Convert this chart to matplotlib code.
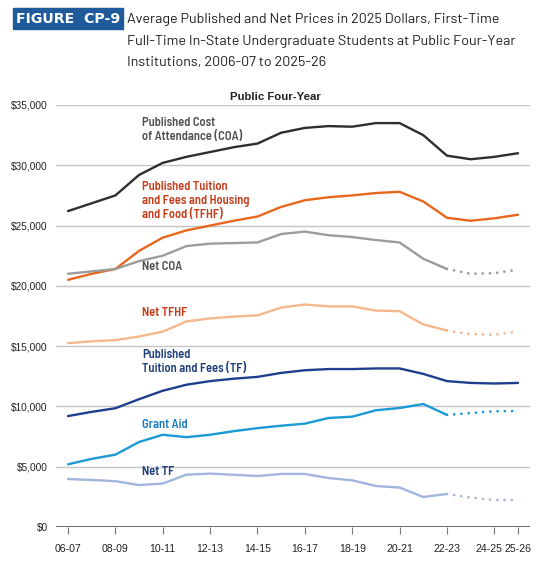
import matplotlib
matplotlib.use("Agg")
import matplotlib.pyplot as plt
from matplotlib.patches import Rectangle
import matplotlib.transforms as mtransforms
import numpy as np

years = ["06-07", "07-08", "08-09", "09-10", "10-11", "11-12", "12-13", "13-14", "14-15", "15-16",
         "16-17", "17-18", "18-19", "19-20", "20-21", "21-22", "22-23", "23-24", "24-25", "25-26"]
tick_labels = ["06-07", "08-09", "10-11", "12-13", "14-15", "16-17", "18-19", "20-21", "22-23", "24-25", "25-26"]

coa = [26200, 26850, 27500, 29200, 30200, 30700, 31100, 31500, 31800, 32700,
       33100, 33250, 33200, 33500, 33500, 32500, 30800, 30500, 30700, 31000]
tfhf = [20500, 21000, 21400, 22900, 24000, 24600, 25000, 25400, 25750, 26550,
        27100, 27350, 27500, 27700, 27800, 27000, 25650, 25400, 25600, 25900]
net_coa = [21000, 21200, 21400, 22050, 22500, 23300, 23500, 23550, 23600, 24300,
           24500, 24200, 24050, 23800, 23600, 22250, 21400, 21000, 21050, 21350]
net_tfhf = [15250, 15400, 15500, 15800, 16200, 17050, 17300, 17450, 17550, 18200,
            18450, 18300, 18300, 17950, 17900, 16800, 16300, 16000, 15950, 16200]
tf = [9200, 9550, 9850, 10600, 11300, 11800, 12100, 12300, 12450, 12780,
      13000, 13100, 13100, 13150, 13150, 12700, 12100, 11950, 11900, 11950]
grant = [5200, 5650, 6000, 7050, 7650, 7450, 7650, 7950, 8200, 8400,
         8570, 9040, 9150, 9680, 9870, 10200, 9300, 9450, 9600, 9620]
net_tf = [3980, 3900, 3800, 3480, 3600, 4340, 4430, 4330, 4230, 4400,
          4400, 4060, 3870, 3400, 3270, 2490, 2740, 2440, 2240, 2240]

series = [
    (coa, "#2e2e2e", False, "Published Cost\nof Attendance (COA)", "#505050", 124),
    (tfhf, "#e8671c", False, "Published Tuition\nand Fees and Housing\nand Food (TFHF)", "#c53d1b", 188),
    (net_coa, "#9c9c9c", True, "Net COA", "#505050", 268),
    (net_tfhf, "#f5b78c", True, "Net TFHF", "#c53d1b", 314),
    (tf, "#1f3f8c", False, "Published\nTuition and Fees (TF)", "#1f3d7a", 356),
    (grant, "#1b9ad6", True, "Grant Aid", "#1b7cc0", 426),
    (net_tf, "#a2b5de", True, "Net TF", "#1f3d7a", 473),
]

W, H = 550, 561
fig = plt.figure(figsize=(W / 100, H / 100), dpi=100)
ax = fig.add_axes([56 / W, 1 - 527 / H, (530 - 56) / W, (527 - 105) / H])

label_font = ["Barlow Semi Condensed", "Liberation Sans Narrow", "Roboto", "DejaVu Sans"]
title_font = ["Barlow", "Roboto", "DejaVu Sans"]
tick_font = ["Liberation Sans", "Roboto", "DejaVu Sans"]

x = np.arange(len(years))
split = years.index("22-23")
for vals, col, proj, label, lcol, ly in series:
    v = np.array(vals, dtype=float)
    if proj:
        ax.plot(x[:split + 1], v[:split + 1], color=col, lw=1.7, solid_capstyle="round", zorder=3)
        ax.plot(x[split:], v[split:], color=col, lw=2.0, linestyle=(0, (0.01, 2.6)),
                dash_capstyle="round", zorder=3)
    else:
        ax.plot(x, v, color=col, lw=1.7, solid_capstyle="round", zorder=3)
    fig.text(142 / W, 1 - (ly - 7) / H, label, color=lcol, fontsize=9.0, fontweight="semibold",
             family=label_font, va="top", ha="left", linespacing=1.22)

ax.set_xlim(-0.507, 19.507)
ax.set_ylim(0, 35000)
yt = np.arange(0, 35001, 5000)
ax.set_yticks(yt)
ax.set_yticklabels(["$" + format(int(v), ",") for v in yt], fontsize=7.3, color="#222222", family=tick_font)
ax.tick_params(axis="y", length=0, pad=6)
for v in yt[1:]:
    ax.axhline(v, color="#c4c4c4", lw=1.0, zorder=1)
ax.axhline(0, color="#555555", lw=1.2, zorder=2)

ax.set_xticks([years.index(t) for t in tick_labels])
ax.set_xticklabels(tick_labels, fontsize=7.6, color="#222222", family=tick_font)
ax.tick_params(axis="x", length=5, width=0.8, color="#777777", pad=7.5)
shift = mtransforms.ScaledTranslation(-5 / 100, 0, fig.dpi_scale_trans)
for lab in ax.get_xticklabels():
    if lab.get_text() == "24-25":
        lab.set_transform(lab.get_transform() + shift)
for s in ax.spines.values():
    s.set_visible(False)

# header
fig.patches.append(Rectangle((12.7 / W, 1 - 29 / H), (122.7 - 12.7) / W, (29 - 8.3) / H,
                             transform=fig.transFigure, color="#1f5b9b", zorder=1))
fig.text(67.7 / W, 1 - 19 / H, "FIGURE  CP-9", color="white", fontsize=10.2, fontweight="heavy",
         family="DejaVu Sans", va="center", ha="center", zorder=2)
title_lines = ["Average Published and Net Prices in 2025 Dollars, First-Time",
               "Full-Time In-State Undergraduate Students at Public Four-Year",
               "Institutions, 2006-07 to 2025-26"]
for i, t in enumerate(title_lines):
    fig.text(127 / W, 1 - (19.5 + 21.7 * i) / H, t, color="#1e1e1e", fontsize=10.3,
             family=title_font, va="center", ha="left")
fig.text(275 / W, 1 - 97 / H, "Public Four-Year", color="#222222", fontsize=8.2,
         fontweight="bold", family=tick_font, va="center", ha="center")

fig.savefig("out.png", dpi=100)
